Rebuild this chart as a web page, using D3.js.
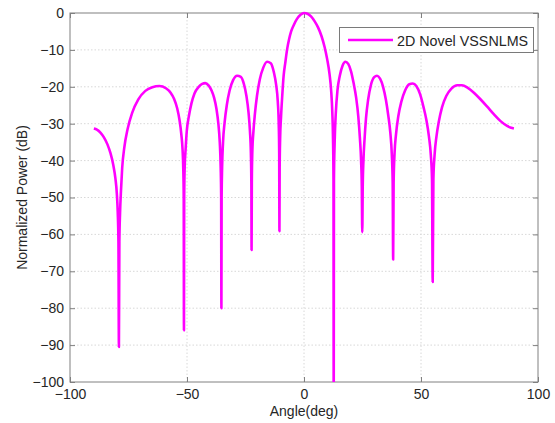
<!DOCTYPE html>
<html><head><meta charset="utf-8">
<script src="https://cdn.jsdelivr.net/npm/d3@7"></script>
<style>
body{margin:0;background:#fff;}
text{font-family:"Liberation Sans",Arial,sans-serif;}
</style>
</head><body>
<svg id="chart" width="555" height="423"></svg>
<script>
// ---- data ----
const angleDeg = [
-89.8,-88.5,-87,-85.5,-84,-82.7,-81.5,-80.6,-80,-79.6,-79.3,-79.1,-78.9,-78.6,-78.2,-77.7,-76.8,-75.4,-73.4,-70.8,-67.8,-64.8,-61.8,-59,-57,-55.5,-54.2,-53.2,-52.4,-51.9,-51.6,-51.4,-51.3,-51.2,-51,-50.6,-50.1,-49.2,-48.1,-46.8,-45,-43.5,-42.2,-40.8,-39.5,-38.4,-37.4,-36.6,-36,-35.6,-35.4,-35.3,-35.2,-35,-34.6,-33.9,-33,-31.8,-30.3,-28.6,-27,-25.7,-24.6,-23.7,-23.1,-22.7,-22.5,-22.4,-22.3,-22.1,-21.6,-21,-20.1,-18.9,-17.4,-15.8,-14.2,-12.9,-11.9,-11.2,-10.8,-10.6,-10.5,-10.4,-10.2,-9.8,-9.3,-8.7,-8,-7.2,-6.4,-5.5,-4.4,-3,-1.5,0,1.5,3,4.5,6,7.5,8.8,9.9,10.9,11.6,12.1,12.4,12.6,12.7,12.8,13.1,13.6,14.3,15.3,16.5,17.7,18.9,20.1,21.2,22.3,23.2,23.9,24.4,24.7,24.9,25.1,25.4,25.9,26.5,27.4,28.6,30,31.2,32.5,33.8,35,36,36.9,37.5,37.9,38.1,38.3,38.7,39.3,40.3,41.6,43.2,45,46.5,48,49.6,51,52.3,53.4,54.2,54.7,55,55.3,55.8,56.6,57.6,59,60.8,63,65.5,67.5,70,72.6,75.3,78.3,81.2,84,86.8,88.5,89.7];
const powerDb = [
-31.3,-31.6,-32.4,-33.7,-35.6,-38,-41.2,-44.8,-48.8,-54,-62,-90.5,-62,-54,-48,-42,-36.5,-31.5,-27,-23.4,-21.1,-20.1,-19.8,-20.4,-21.6,-23.3,-25.8,-29,-33,-37,-42,-50,-86,-50,-42,-37,-32,-28,-24.5,-21.8,-20,-19.2,-19,-19.6,-21,-23,-26,-30,-35,-42,-50,-80,-50,-42,-35,-29.5,-25,-21,-18.2,-17,-17.3,-19.2,-22.5,-27,-32,-38,-46,-64.2,-46,-38,-32,-27.5,-22.5,-18,-14.8,-13.2,-13.6,-16,-19.5,-24,-30,-38,-59.1,-42,-34,-28,-22.5,-17,-13.5,-9.8,-7.2,-5,-3.3,-1.6,-0.5,0,-0.2,-0.9,-2.2,-3.9,-6.3,-9.2,-12.5,-16.5,-21,-27,-34,-45,-110,-45,-35,-27,-21,-17,-14.2,-13.2,-13.8,-15.8,-19,-23,-28,-34,-40,-47,-59.4,-47,-40,-34,-28.5,-23.5,-19.5,-17.4,-17,-17.8,-20,-23.5,-27.7,-32.5,-38,-46,-66.8,-46,-38,-33,-28,-24,-21,-19.3,-19.1,-19.8,-22,-25.3,-29,-33.5,-38.5,-45,-72.9,-45,-38.5,-33.5,-29.5,-25.5,-22.5,-20.5,-19.6,-19.6,-20.3,-21.6,-23.3,-25.4,-27.5,-29.3,-30.6,-31.1,-31.3];
const xTicks = [-100,-50,0,50,100];
const yTicks = [0,-10,-20,-30,-40,-50,-60,-70,-80,-90,-100];
const seriesName = "2D Novel VSSNLMS";
const xTitle = "Angle(deg)";
const yTitle = "Normalized Power (dB)";

// ---- layout ----
const L = 70, R = 538, T = 13, B = 382;
const svg = d3.select("#chart");
const x = d3.scaleLinear().domain([-100,100]).range([L,R]);
const y = d3.scaleLinear().domain([-100,0]).range([B,T]);
const axisCol = "#808080", textCol = "#262626", lineCol = "#ff00ff";

svg.append("rect").attr("width",555).attr("height",423).attr("fill","#fff");

// grid
const grid = svg.append("g");
grid.selectAll(".gx").data(xTicks.slice(1,-1)).join("line")
  .attr("x1",d=>x(d)).attr("x2",d=>x(d)).attr("y1",T).attr("y2",B);
grid.selectAll(".gy").data(yTicks.slice(1,-1)).join("line")
  .attr("x1",L).attr("x2",R).attr("y1",d=>y(d)).attr("y2",d=>y(d));
grid.selectAll("line").attr("stroke","#d8d8d8").attr("stroke-width",1).attr("stroke-dasharray","1.5,2");

// axes
const fmt = d3.format("d");
const ax = svg.append("g").attr("transform",`translate(0,${B})`)
  .call(d3.axisBottom(x).tickValues(xTicks).tickFormat(fmt).tickSizeInner(-5).tickSizeOuter(0).tickPadding(7));
const ay = svg.append("g").attr("transform",`translate(${L},0)`)
  .call(d3.axisLeft(y).tickValues(yTicks).tickFormat(fmt).tickSizeInner(-5).tickSizeOuter(0).tickPadding(6));
const axTop = svg.append("g").attr("transform",`translate(0,${T})`)
  .call(d3.axisTop(x).tickValues(xTicks).tickFormat("").tickSizeInner(-5).tickSizeOuter(0));
const ayR = svg.append("g").attr("transform",`translate(${R},0)`)
  .call(d3.axisRight(y).tickValues(yTicks).tickFormat("").tickSizeInner(-5).tickSizeOuter(0));
[ax,ay,axTop,ayR].forEach(g=>{
  g.select(".domain").remove();
  g.selectAll("line").attr("stroke",axisCol);
  g.selectAll("text").attr("fill",textCol).style("font-size","14px").style("font-family","'Liberation Sans',Arial,sans-serif");
});
svg.append("rect").attr("x",L).attr("y",T).attr("width",R-L).attr("height",B-T)
  .attr("fill","none").attr("stroke",axisCol).attr("stroke-width",1);

// clip
svg.append("clipPath").attr("id","clip").append("rect")
  .attr("x",L).attr("y",T-3).attr("width",R-L).attr("height",B-T+3);

// line
const pts = angleDeg.map((a,i)=>[a,powerDb[i]]);
svg.append("path").datum(pts)
  .attr("clip-path","url(#clip)")
  .attr("d", d3.line().x(d=>x(d[0])).y(d=>y(d[1])).curve(d3.curveMonotoneX))
  .attr("fill","none").attr("stroke",lineCol).attr("stroke-width",2.6).attr("stroke-linejoin","round");

// titles
svg.append("text").attr("x",(L+R)/2).attr("y",416).attr("text-anchor","middle")
  .attr("fill",textCol).style("font-size","14px").text(xTitle);
svg.append("text").attr("transform",`translate(27,${(T+B)/2}) rotate(-90)`).attr("text-anchor","middle")
  .attr("fill",textCol).style("font-size","14px").text(yTitle);

// legend
const lg = svg.append("g");
lg.append("rect").attr("x",339.5).attr("y",27.5).attr("width",194).attr("height",25)
  .attr("fill","#fff").attr("stroke","#7a7a7a").attr("stroke-width",1);
lg.append("line").attr("x1",348).attr("x2",393).attr("y1",40).attr("y2",40)
  .attr("stroke",lineCol).attr("stroke-width",2.6);
lg.append("text").attr("x",397).attr("y",45.5).attr("fill",textCol).style("font-size","14.3px").text(seriesName);
</script>
</body></html>
